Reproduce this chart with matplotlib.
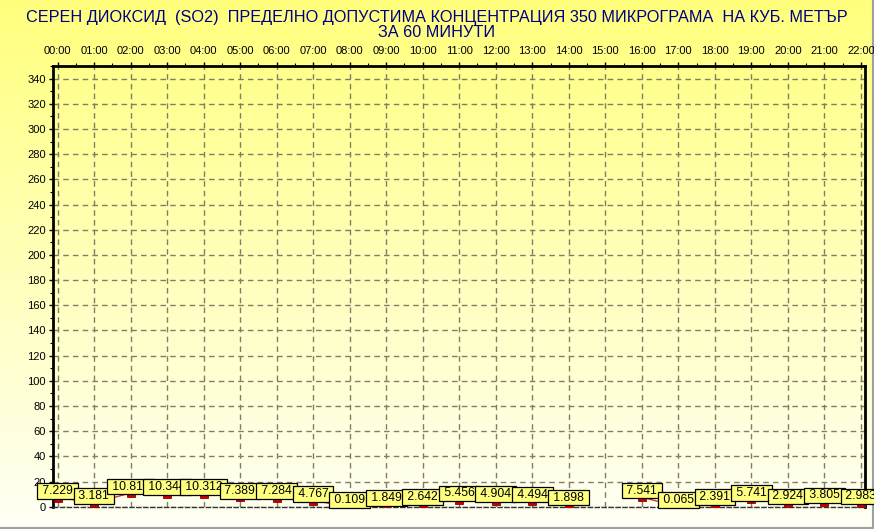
import numpy as np
import matplotlib
matplotlib.use("Agg")
import matplotlib.pyplot as plt
from matplotlib.ticker import MultipleLocator, FixedLocator

hours = list(range(23))
hour_labels = [f"{h:02d}:00" for h in hours]
values = [7.229, 3.181, 10.813, 10.344, 10.312, 7.389, 7.284, 4.767, 0.109,
          1.849, 2.642, 5.456, 4.904, 4.494, 1.898, np.nan, 7.541, 0.065,
          2.391, 5.741, 2.924, 3.805, 2.983]
y_ticks = list(range(0, 341, 20))
title = ("СЕРЕН ДИОКСИД  (SO2)  ПРЕДЕЛНО ДОПУСТИМА КОНЦЕНТРАЦИЯ 350 МИКРОГРАМА  НА КУБ. МЕТЪР\n"
         "ЗА 60 МИНУТИ")

plt.rcParams['font.family'] = ['Liberation Sans', 'DejaVu Sans']

W, H = 874, 529
fig = plt.figure(figsize=(W / 100, H / 100), dpi=100)

# background gradient
bg = fig.add_axes([0, 0, 1, 1], zorder=-10)
grad = np.linspace(0, 1, 256).reshape(-1, 1)
top = np.array([255, 255, 125]) / 255.0
bot = np.array([255, 255, 246]) / 255.0
img = top[None, None, :] * (1 - grad[:, :, None]) + bot[None, None, :] * grad[:, :, None]
bg.imshow(img, aspect='auto', extent=[0, 1, 0, 1], origin='upper')
bg.set_xlim(0, 1); bg.set_ylim(0, 1)
bg.axis('off')
# grey frame at bottom & right
bg.plot([0, 1], [1.5 / H, 1.5 / H], color='#a0a0a0', lw=1.5, transform=bg.transAxes)
bg.plot([1 - 1.5 / W, 1 - 1.5 / W], [0, 1], color='#a0a0a0', lw=1.5, transform=bg.transAxes)

left, right, topy, boty = 53, 865, 66, 506.7
ax = fig.add_axes([left / W, 1 - boty / H, (right - left) / W, (boty - topy) / H])
ax.patch.set_alpha(0)

x0, dx = 57.5, 36.52
ax.set_xlim((left - x0) / dx, (right - x0) / dx)
ax.set_ylim(0, 350)

ax.plot(hours, values, color='#e02020', lw=0.9, zorder=3)
ax.plot(hours, values, ls='none', marker='s', markersize=5.8,
        markerfacecolor='#cc0000', markeredgecolor='#900000', markeredgewidth=0.6,
        zorder=4)

for h, v in zip(hours, values):
    if np.isnan(v):
        continue
    ax.annotate(f" {v:.3f} ", (h, v), xytext=(0, 4.7), textcoords='offset points',
                ha='center', va='center', fontsize=8.8, color='black',
                bbox=dict(boxstyle='square,pad=0.14', fc='#ffff80', ec='black', lw=0.9),
                annotation_clip=False, clip_on=False, zorder=5)

ax.xaxis.set_major_locator(FixedLocator(hours))
ax.set_xticklabels(hour_labels)
ax.xaxis.set_minor_locator(MultipleLocator(0.5))
ax.xaxis.tick_top()
ax.set_yticks(y_ticks)
ax.yaxis.set_minor_locator(MultipleLocator(10))
ax.tick_params(axis='both', which='major', labelsize=8, length=3, width=1, color='black', direction='out')
ax.tick_params(axis='both', which='minor', length=2, width=0.8, color='black', direction='out')
ax.tick_params(axis='x', which='both', top=True, bottom=False, pad=4)
ax.tick_params(axis='y', which='major', pad=2)

ax.grid(True, which='major', color='#807f66', ls=(0, (4, 3)), lw=1)

for s in ['left', 'top', 'right']:
    ax.spines[s].set_linewidth(2)
    ax.spines[s].set_color('black')
ax.spines['bottom'].set_linestyle((0, (3, 2)))
ax.spines['bottom'].set_linewidth(1)
ax.spines['bottom'].set_color('#333333')

fig.text(0.5, 1 - 25 / H, title, ha='center', va='center', color='#000080',
         fontsize=11.7, family=['Liberation Sans Narrow', 'Liberation Sans', 'DejaVu Sans'],
         linespacing=1.05)

fig.savefig('out.png', dpi=100)
